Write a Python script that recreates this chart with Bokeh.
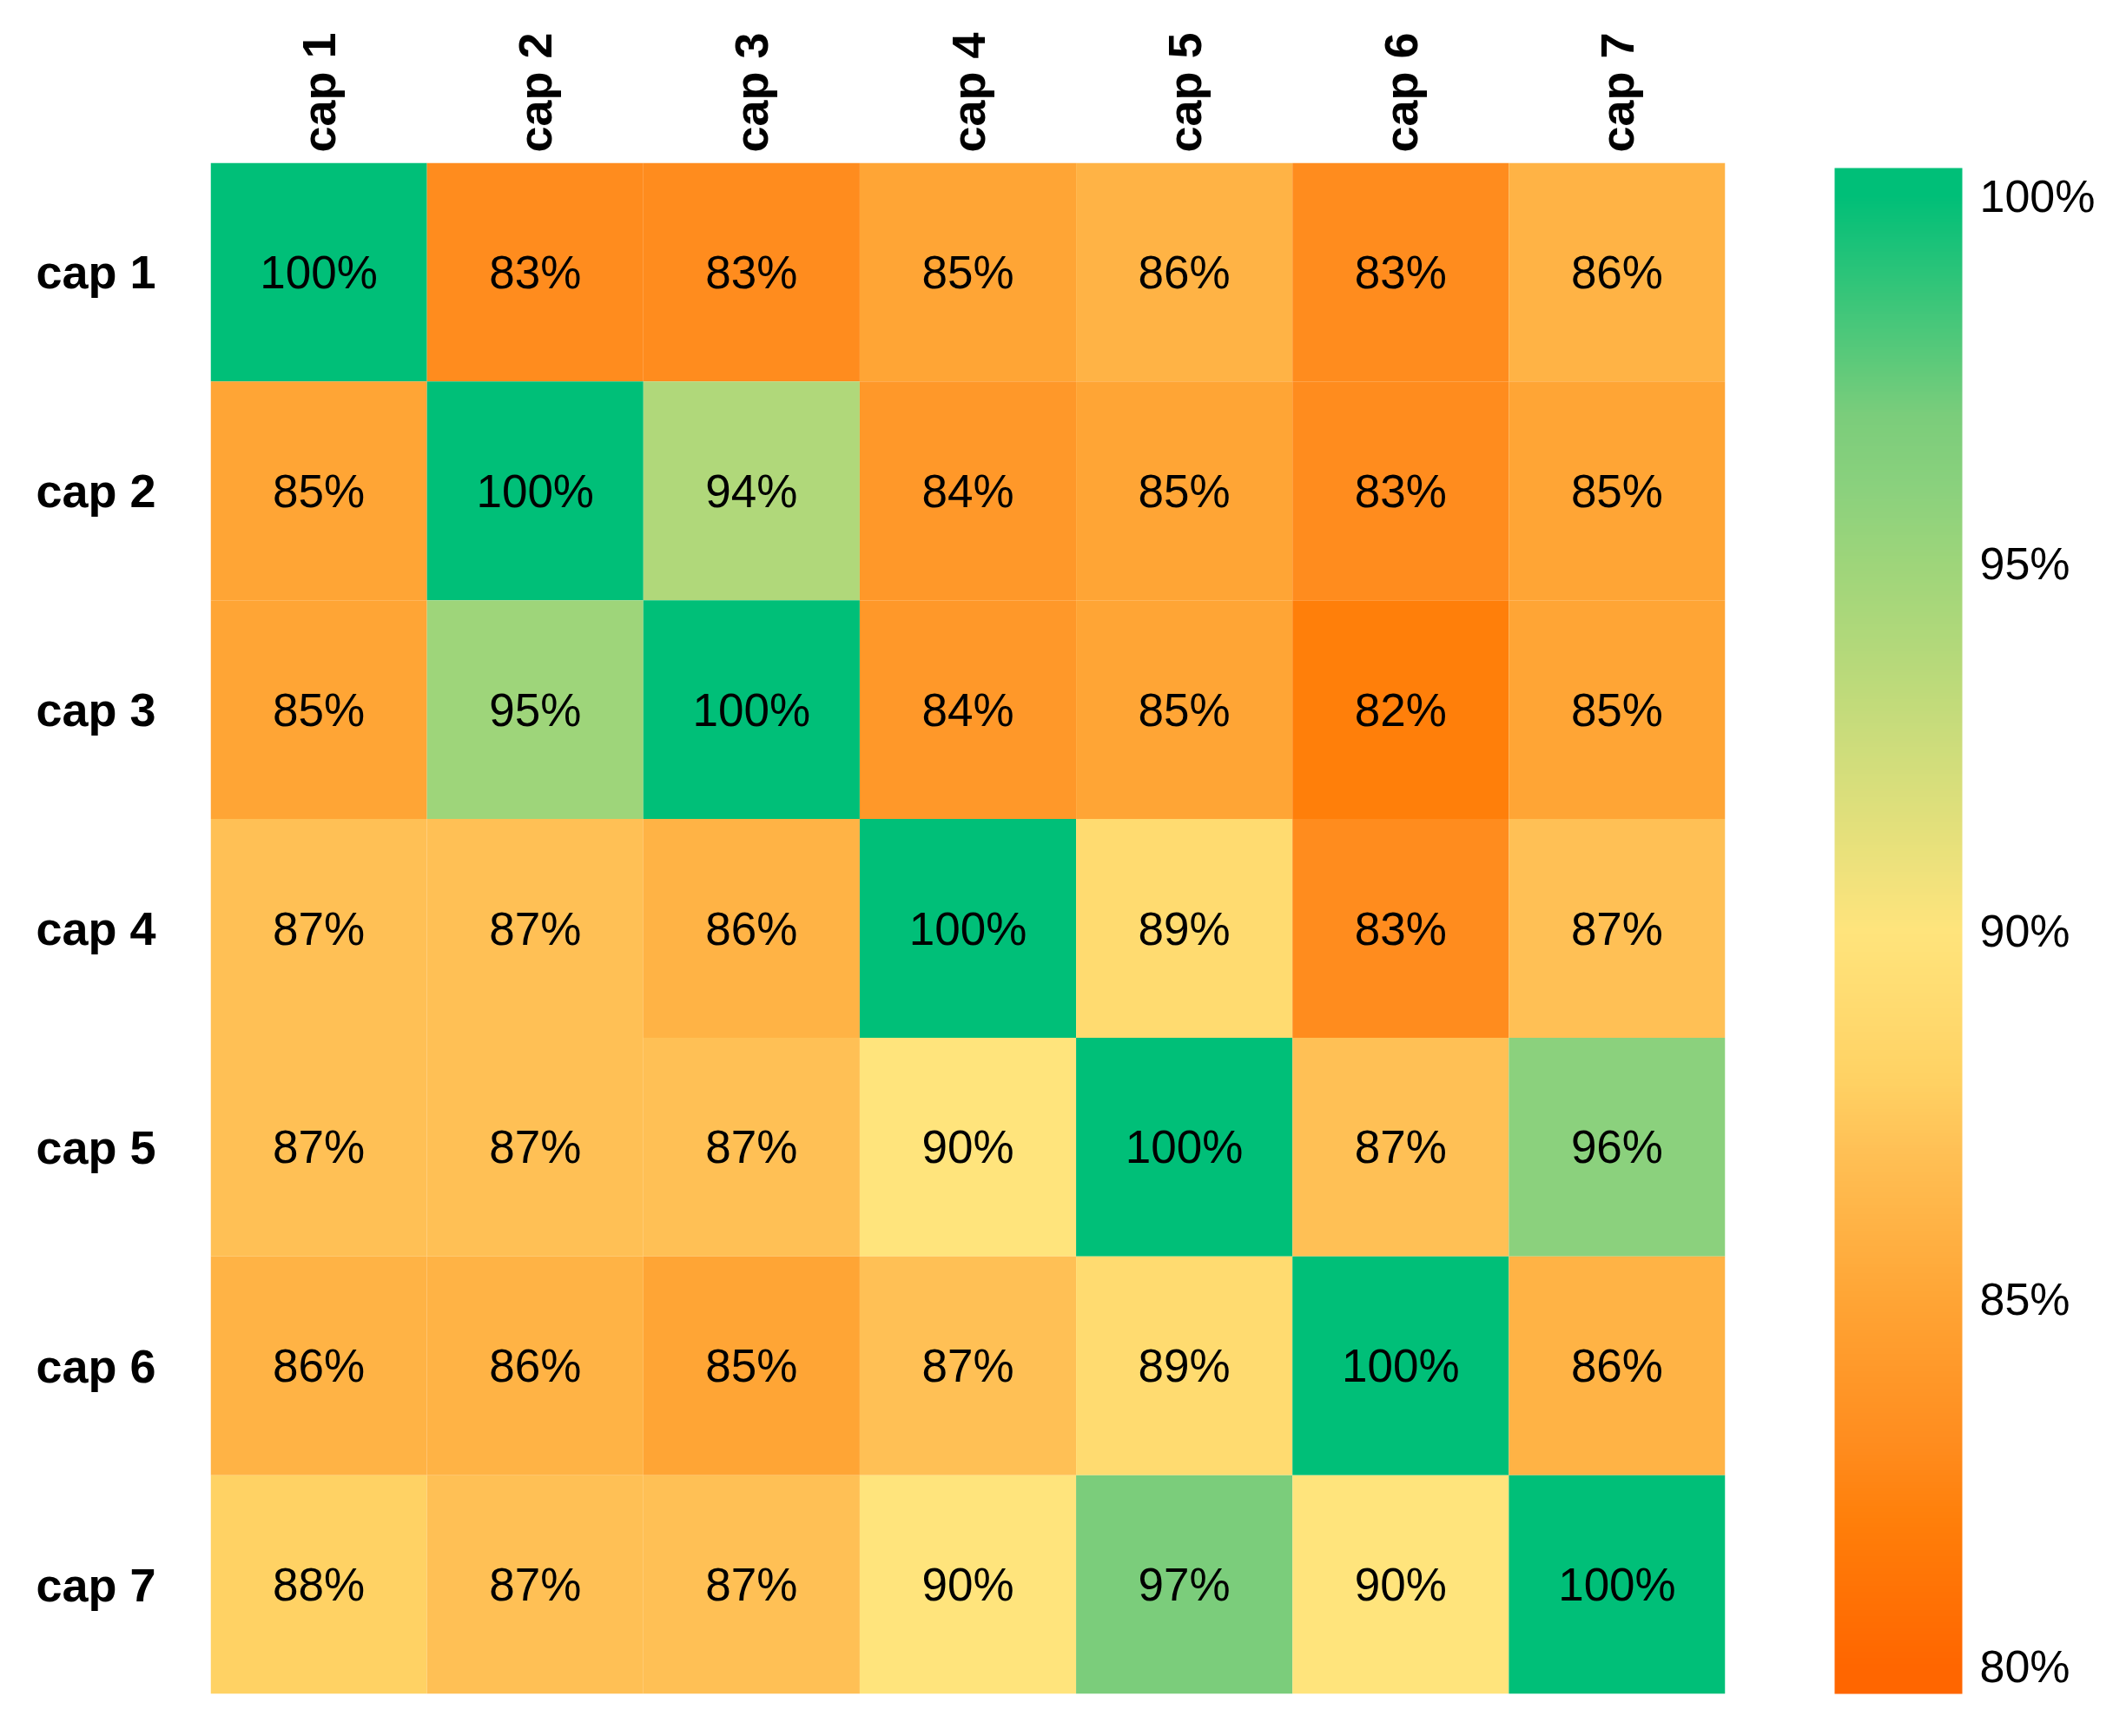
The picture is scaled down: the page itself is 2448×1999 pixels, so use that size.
from bokeh.plotting import figure
from bokeh.models import (ColumnDataSource, LinearColorMapper, ColorBar, FixedTicker,
                          NumeralTickFormatter, FactorRange)
from bokeh.transform import transform
from bokeh.embed import file_html
from bokeh.resources import INLINE
from bokeh.core.properties import value

# ---------------- data ----------------
caps = ["cap 1", "cap 2", "cap 3", "cap 4", "cap 5", "cap 6", "cap 7"]
row_cap1 = [100, 83, 83, 85, 86, 83, 86]
row_cap2 = [85, 100, 94, 84, 85, 83, 85]
row_cap3 = [85, 95, 100, 84, 85, 82, 85]
row_cap4 = [87, 87, 86, 100, 89, 83, 87]
row_cap5 = [87, 87, 87, 90, 100, 87, 96]
row_cap6 = [86, 86, 85, 87, 89, 100, 86]
row_cap7 = [88, 87, 87, 90, 97, 90, 100]
rows = [row_cap1, row_cap2, row_cap3, row_cap4, row_cap5, row_cap6, row_cap7]
scale_ticks = [0.80, 0.85, 0.90, 0.95, 1.00]

# ---------------- colour scale (style) ----------------
stops = [(0.80, "#FF6600"), (0.82, "#FF7F0A"), (0.83, "#FF8C1E"), (0.85, "#FFA535"),
         (0.87, "#FFC055"), (0.88, "#FFD264"), (0.90, "#FFE47C"), (0.94, "#B0D87A"),
         (0.95, "#9ED57A"), (0.96, "#8BD17D"), (0.97, "#7BCD7B"), (1.00, "#00BF78")]
LOW, HIGH = 0.7963, 1.0038


def hex_rgb(h):
    return tuple(int(h[i:i + 2], 16) for i in (1, 3, 5))


def color_at(t):
    if t <= stops[0][0]:
        return hex_rgb(stops[0][1])
    if t >= stops[-1][0]:
        return hex_rgb(stops[-1][1])
    for (a, ca), (b, cb) in zip(stops[:-1], stops[1:]):
        if a <= t <= b:
            f = (t - a) / (b - a)
            ca, cb = hex_rgb(ca), hex_rgb(cb)
            return tuple(round(ca[i] + f * (cb[i] - ca[i])) for i in range(3))


N = 512
palette = []
for i in range(N):
    t = LOW + (HIGH - LOW) * (i + 0.5) / N
    r, g, b = color_at(t)
    palette.append("#%02X%02X%02X" % (r, g, b))

mapper = LinearColorMapper(palette=palette, low=LOW, high=HIGH)

xs, ys, vs, labels = [], [], [], []
for rname, row in zip(caps, rows):
    for cname, v in zip(caps, row):
        xs.append(cname)
        ys.append(rname)
        vs.append(v / 100.0)
        labels.append(f"{v}%")
src = ColumnDataSource(dict(x=xs, y=ys, v=vs, label=labels))

W, H = 2428, 1983
p = figure(width=W, height=H, x_range=FactorRange(*caps), y_range=FactorRange(*reversed(caps)),
           x_axis_location="above", toolbar_location=None, output_backend="svg",
           min_border_left=242, min_border_top=187, min_border_bottom=33, min_border_right=442)
p.outline_line_color = None
p.grid.grid_line_color = None
p.background_fill_color = "white"

p.rect(x="x", y="y", width=1, height=1, source=src,
       fill_color=transform("v", mapper), line_color=None)
p.text(x="x", y="y", text="label", source=src, text_align="center", text_baseline="middle",
       text_font=value("Liberation Sans"), text_font_size="53px", text_color="black")

for ax in (p.xaxis[0], p.yaxis[0]):
    ax.axis_line_color = None
    ax.major_tick_line_color = None
    ax.minor_tick_line_color = None
    ax.major_label_text_font = "Liberation Sans"
    ax.major_label_text_font_style = "bold"
    ax.major_label_text_font_size = "54px"
    ax.major_label_text_color = "black"
p.xaxis.major_label_orientation = "vertical"
p.xaxis.major_label_standoff = 6
p.yaxis.major_label_standoff = 57

cb = ColorBar(color_mapper=mapper, ticker=FixedTicker(ticks=scale_ticks),
              formatter=NumeralTickFormatter(format="0%"),
              major_tick_line_color=None, minor_tick_line_color=None,
              bar_line_color=None, border_line_color=None, background_fill_color=None,
              label_standoff=20, major_label_text_font="Liberation Sans",
              major_label_text_font_size="52px", major_label_text_color="black",
              width=147, height=1757, padding=0, margin=0, location=(126, 0))
p.add_layout(cb, "right")

open("out.html", "w").write(file_html(p, INLINE))
